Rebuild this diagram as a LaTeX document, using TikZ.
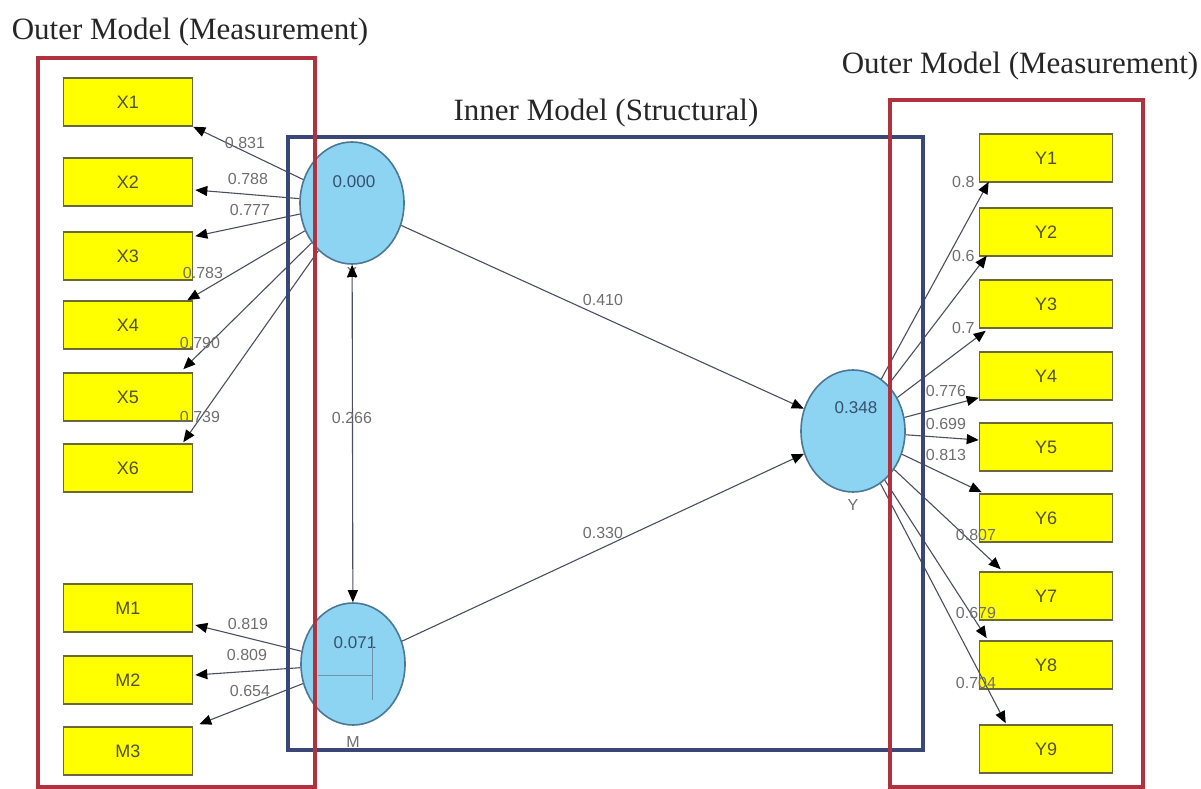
\documentclass[tikz,border=0pt]{standalone}
\usepackage{fontspec}
\setmainfont{Liberation Serif}
\newfontfamily\labfont{Liberation Sans}
\usetikzlibrary{shapes.geometric,arrows.meta,calc}
\definecolor{frameRed}{RGB}{176,50,62}
\definecolor{frameBlue}{RGB}{58,70,118}
\definecolor{indFill}{RGB}{255,255,0}
\definecolor{indLine}{RGB}{105,105,60}
\definecolor{indText}{RGB}{80,80,55}
\definecolor{lvFill}{RGB}{140,212,242}
\definecolor{lvLine}{RGB}{75,120,150}
\definecolor{lvText}{RGB}{55,80,110}
\definecolor{pathLine}{RGB}{75,78,95}
\definecolor{coefText}{RGB}{110,110,110}
\begin{document}
\begin{tikzpicture}[x=1pt,y=-1pt,
  tip/.tip={Triangle[length=12pt,width=10pt,color=black]},
  indicator/.style={draw=indLine, line width=1.6pt, fill=indFill,
    minimum width=129pt, minimum height=48pt, inner sep=0pt,
    font=\labfont\fontsize{18}{18}\selectfont, text=indText},
  latent/.style={ellipse, draw=lvLine, line width=1.6pt, fill=lvFill,
    minimum width=104pt, minimum height=122pt, inner sep=0pt},
  lvvalue/.style={font=\labfont\fontsize{17}{17}\selectfont, text=lvText, inner sep=0pt},
  lvname/.style={font=\labfont\fontsize{16}{16}\selectfont, text=coefText, inner sep=0pt},
  loading/.style={draw=pathLine, line width=1.1pt, -tip},
  coef/.style={font=\labfont\fontsize{16}{16}\selectfont, text=coefText, inner sep=0pt},
  frame/.style={line width=3.5pt},
  heading/.style={font=\fontsize{31}{31}\selectfont, anchor=base, inner sep=0pt, text=black!85}
]
\useasboundingbox (0,0) rectangle (1201,789);

% ---------- headings ----------
\node[heading] (hLeft)  at (190,40)  {Outer Model (Measurement)};
\node[heading] (hRight) at (1020,74) {Outer Model (Measurement)};
\node[heading] (hInner) at (606,121) {Inner Model (Structural)};

% ---------- indicators of X and M ----------
\node[indicator] (x1) at (128,102) {X1};
\node[indicator] (x2) at (128,182) {X2};
\node[indicator] (x3) at (128,256) {X3};
\node[indicator] (x4) at (128,325) {X4};
\node[indicator] (x5) at (128,397) {X5};
\node[indicator] (x6) at (128,468) {X6};
\node[indicator] (m1) at (128,608) {M1};
\node[indicator] (m2) at (128,680) {M2};
\node[indicator] (m3) at (128,751) {M3};

% ---------- indicators of Y ----------
\node[indicator, minimum width=133pt] (y1) at (1046,158) {Y1};
\node[indicator, minimum width=133pt] (y2) at (1046,232) {Y2};
\node[indicator, minimum width=133pt] (y3) at (1046,304) {Y3};
\node[indicator, minimum width=133pt] (y4) at (1046,376) {Y4};
\node[indicator, minimum width=133pt] (y5) at (1046,447) {Y5};
\node[indicator, minimum width=133pt] (y6) at (1046,518) {Y6};
\node[indicator, minimum width=133pt] (y7) at (1046,596) {Y7};
\node[indicator, minimum width=133pt] (y8) at (1046,665) {Y8};
\node[indicator, minimum width=133pt] (y9) at (1046,749) {Y9};

% ---------- latent variables ----------
\node[latent] (X) at (352,203) {};
\node[latent] (M) at (353,664) {};
\node[latent] (Y) at (853,431) {};
\node[lvvalue] (vX) at (354,182) {0.000};
\node[lvvalue] (vM) at (355,643) {0.071};
\node[lvvalue] (vY) at (856,408) {0.348};
\node[lvname] (nX) at (352,273) {X};
\node[lvname] (nM) at (353,742) {M};
\node[lvname] (nY) at (853,505) {Y};
\draw[lvLine!80, line width=0.9pt] (318,675) -- (372,675) -- (372,645)
  (372,675) -- (372,700);

% ---------- outer loadings: X ----------
\draw[loading] (X) -- (x1.south east);
\draw[loading] (X) -- ($(x2.east)+(2,8)$);
\draw[loading] (X) -- ($(x3.north east)+(2,5)$);
\draw[loading] (X) -- ($(x4.north east)+(-6,0)$);
\draw[loading] (X) -- ($(x5.north east)+(-10,-3)$);
\draw[loading] (X) -- ($(x6.north east)+(-10,-1)$);

% ---------- outer loadings: M ----------
\draw[loading] (M) -- ($(m1.east)+(2,17)$);
\draw[loading] (M) -- ($(m2.east)+(2,-5)$);
\draw[loading] (M) -- ($(m3.north east)+(6,-2)$);

% ---------- outer loadings: Y ----------
\draw[loading] (Y) -- ($(y1.south west)+(10,-1)$);
\draw[loading] (Y) -- ($(y2.south west)+(8,-1)$);
\draw[loading] (Y) -- ($(y3.south west)+(7,2)$);
\draw[loading] (Y) -- ($(y4.south west)+(0,-3)$);
\draw[loading] (Y) -- ($(y5.west)+(0,-7)$);
\draw[loading] (Y) -- ($(y6.north west)+(3,-1)$);
\draw[loading] (Y) -- ($(y7.north west)+(22,-2)$);
\draw[loading] (Y) -- ($(y8.north west)+(8,-2)$);
\draw[loading] (Y) -- ($(y9.north west)+(27,-1)$);

% ---------- inner paths ----------
\draw[loading] (X) -- (Y);
\draw[loading] (M) -- (Y);
\draw[loading, tip-tip] (X) -- (M);

% ---------- coefficients ----------
\node[coef] (cx1) at (245,143) {0.831};
\node[coef] (cx2) at (248,179) {0.788};
\node[coef] (cx3) at (250,210) {0.777};
\node[coef] (cx4) at (203,273) {0.783};
\node[coef] (cx5) at (200,343) {0.790};
\node[coef] (cx6) at (200,417) {0.739};
\node[coef] (cm1) at (248,624) {0.819};
\node[coef] (cm2) at (247,655) {0.809};
\node[coef] (cm3) at (250,691) {0.654};
\node[coef] (cXY) at (603,300) {0.410};
\node[coef] (cMY) at (603,533) {0.330};
\node[coef] (cXM) at (352,418) {0.266};
\node[coef, anchor=west] (cy1) at (952,182) {0.8};
\node[coef, anchor=west] (cy2) at (952,256) {0.6};
\node[coef, anchor=west] (cy3) at (952,328) {0.7};
\node[coef] (cy4) at (946,391) {0.776};
\node[coef] (cy5) at (946,424) {0.699};
\node[coef] (cy6) at (946,455) {0.813};
\node[coef] (cy7) at (976,535) {0.807};
\node[coef] (cy8) at (976,613) {0.679};
\node[coef] (cy9) at (976,683) {0.704};

% ---------- model frames ----------
\draw[frame, frameBlue] (288,137) rectangle (923,750);
\draw[frame, frameRed] (38,58) rectangle (315,787);
\draw[frame, frameRed] (890,100) rectangle (1143,787);
\end{tikzpicture}
\end{document}
